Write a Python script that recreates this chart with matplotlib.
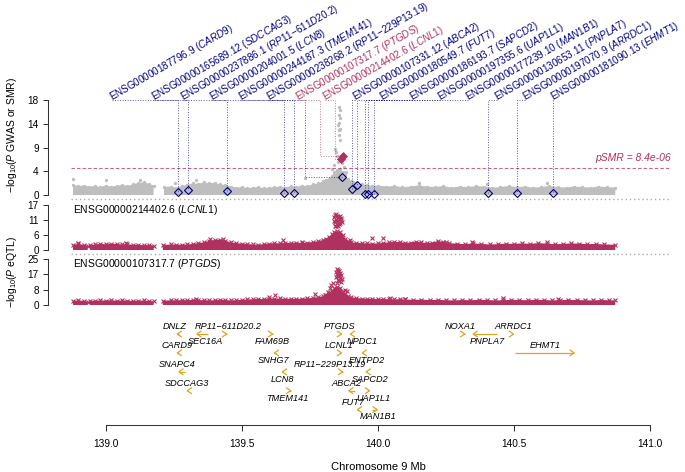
import numpy as np
import matplotlib
matplotlib.use("Agg")
import matplotlib.pyplot as plt
from matplotlib.lines import Line2D

plt.rcParams['font.family'] = ['Liberation Sans', 'DejaVu Sans']
plt.rcParams['mathtext.fontset'] = 'custom'
plt.rcParams['mathtext.rm'] = 'Liberation Sans'
plt.rcParams['mathtext.it'] = 'Liberation Sans:italic'
plt.rcParams['mathtext.bf'] = 'Liberation Sans:bold'

# ---------------- data ----------------
# GWAS: upper envelope of the dense band of SNPs (Mb, -log10 P); nan = gap
gwas_pos = [138.880, 138.900, 138.920, 138.940, 138.960, 138.980, 139.000, 139.020, 139.040, 139.060,
            139.080, 139.100, 139.120, 139.140, 139.160, 139.176, 139.195, 139.214, 139.240, 139.260,
            139.280, 139.300, 139.320, 139.340, 139.360, 139.380, 139.400, 139.420, 139.440, 139.460,
            139.480, 139.500, 139.520, 139.540, 139.560, 139.580, 139.600, 139.620, 139.640, 139.660,
            139.680, 139.700, 139.720, 139.740, 139.760, 139.780, 139.800, 139.810, 139.820, 139.830,
            139.840, 139.850, 139.860, 139.870, 139.880, 139.890, 139.900, 139.910, 139.920, 139.940,
            139.960, 139.980, 140.000, 140.030, 140.060, 140.090, 140.120, 140.150, 140.180, 140.210,
            140.240, 140.270, 140.300, 140.330, 140.360, 140.390, 140.420, 140.450, 140.480, 140.510,
            140.540, 140.570, 140.600, 140.630, 140.660, 140.690, 140.720, 140.750, 140.780, 140.810,
            140.840, 140.872]
gwas_top = [1.9, 1.7, 1.8, 1.6, 1.7, 1.5, 1.8, 1.6, 1.7, 1.9,
            1.7, 2.0, 2.3, 2.4, 2.1, 1.8, np.nan, 1.5, 1.6, 1.4,
            1.7, 1.9, 2.2, 2.1, 2.4, 2.2, 2.3, 2.0, 1.9, 1.6,
            1.4, 1.5, 1.3, 1.4, 1.5, 1.3, 1.4, 1.5, 1.6, 1.4,
            1.7, 1.5, 1.8, 1.7, 2.0, 2.2, 2.6, 2.8, 3.1, 3.6,
            4.3, 4.8, 5.0, 4.4, 3.7, 3.0, 2.6, 2.4, 2.2, 2.0,
            1.9, 1.7, 1.8, 1.6, 1.7, 1.5, 1.6, 1.8, 1.6, 1.5,
            1.7, 1.4, 1.6, 1.5, 1.7, 1.6, 1.4, 1.5, 1.7, 1.5,
            1.6, 1.4, 1.5, 1.7, 1.5, 1.4, 1.6, 1.5, 1.4, 1.6,
            1.5, 1.4]
# GWAS SNPs standing out above the band
gwas_pt_pos = [139.857, 139.861, 139.857, 139.861, 139.857, 139.854, 139.861, 139.857, 139.857, 139.861,
               139.843, 139.846, 139.850, 139.861, 139.854, 139.868, 139.839, 139.875, 139.832, 139.884,
               139.732, 138.880, 139.000, 139.125, 139.330, 139.255, 140.150, 140.400, 140.620]
gwas_pt_val = [16.7, 16.1, 15.2, 14.5, 13.6, 13.3, 12.6, 12.3, 11.4, 10.4,
               8.8, 8.2, 7.3, 6.6, 6.3, 6.0, 5.6, 5.3, 4.9, 4.4,
               3.2, 3.0, 2.8, 2.8, 2.9, 2.2, 2.3, 2.1, 2.2]

# SMR probes
smr_ids = ["ENSG00000187796.9", "ENSG00000165689.12", "ENSG00000237886.1", "ENSG00000204001.5",
           "ENSG00000244187.3", "ENSG00000238268.2", "ENSG00000107317.7", "ENSG00000214402.6",
           "ENSG00000107331.12", "ENSG00000180549.7", "ENSG00000186193.7", "ENSG00000197355.6",
           "ENSG00000177239.10", "ENSG00000130653.11", "ENSG00000197070.9", "ENSG00000181090.13"]
smr_genes = ["CARD9", "SDCCAG3", "RP11-611D20.2", "LCN8", "TMEM141", "RP11-229P13.19", "PTGDS", "LCNL1",
             "ABCA2", "FUT7", "SAPCD2", "UAP1L1", "MAN1B1", "PNPLA7", "ARRDC1", "EHMT1"]
smr_pos = [139.2656, 139.3024, 139.4456, 139.6550, 139.6918, 139.8681, 139.8718, 139.8644,
           139.9049, 139.9232, 139.9526, 139.9636, 139.9857, 140.4045, 140.5110, 140.6433]
smr_val = [0.57, 1.0, 0.7, 0.3, 0.3, 3.5, 7.3, 6.8,
           1.07, 1.9, 0.2, 0.2, 0.2, 0.45, 0.45, 0.45]
smr_sig = ["PTGDS", "LCNL1"]
psmr_threshold = 8.4e-06

# eQTL: LCNL1
eqtl1_id, eqtl1_gene = "ENSG00000214402.6", "LCNL1"
eqtl1_pos = [138.880, 138.900, 138.920, 138.934, 138.938, 138.942, 138.960, 138.980, 139.000, 139.020,
             139.040, 139.060, 139.080, 139.100, 139.120, 139.140, 139.160, 139.176, 139.193, 139.210,
             139.240, 139.260, 139.280, 139.300, 139.320, 139.340, 139.360, 139.380, 139.400, 139.420,
             139.440, 139.460, 139.480, 139.500, 139.520, 139.540, 139.560, 139.580, 139.600, 139.620,
             139.640, 139.660, 139.680, 139.700, 139.720, 139.740, 139.760, 139.780, 139.800, 139.810,
             139.820, 139.830, 139.840, 139.850, 139.860, 139.870, 139.880, 139.890, 139.900, 139.920,
             139.940, 139.960, 139.980, 140.000, 140.020, 140.040, 140.060, 140.080, 140.100, 140.120,
             140.140, 140.160, 140.180, 140.200, 140.220, 140.240, 140.260, 140.290, 140.320, 140.350,
             140.380, 140.410, 140.440, 140.470, 140.500, 140.530, 140.560, 140.590, 140.620, 140.650,
             140.680, 140.710, 140.740, 140.770, 140.800, 140.830, 140.872]
eqtl1_top = [1.9, 2.3, 1.9, 1.7, np.nan, 1.8, 2.1, 2.3, 2.2, 2.4,
             2.3, 2.1, 2.2, 1.9, 2.0, 1.8, 1.9, 1.7, np.nan, 1.9,
             2.1, 2.0, 2.0, 2.1, 2.3, 2.6, 2.9, 3.4, 3.8, 3.9,
             3.5, 2.9, 2.6, 2.4, 2.2, 2.1, 2.0, 2.2, 2.4, 2.6,
             2.5, 2.7, 2.6, 2.8, 2.6, 2.8, 3.0, 3.3, 3.8, 4.3,
             5.0, 5.9, 6.8, 7.0, 6.9, 5.8, 4.2, 3.3, 2.9, 2.7,
             2.6, 2.5, 2.4, 2.5, 2.7, 2.9, 3.1, 3.0, 2.7, 2.8,
             3.2, 2.9, 2.6, 2.8, 3.4, 3.1, 2.6, 2.4, 2.2, 2.5,
             2.3, 2.1, 2.2, 2.4, 2.3, 2.5, 2.3, 2.6, 2.4, 2.2,
             2.3, 2.5, 2.4, 2.2, 2.3, 2.1, 2.0]
eqtl1_pt_pos = [139.839, 139.842, 139.846, 139.850, 139.853, 139.857, 139.861, 139.864, 139.846, 139.842,
                139.850, 139.853, 139.857, 139.861, 139.864, 139.839, 139.868, 139.846, 139.853, 139.842,
                138.900, 139.075, 139.385, 139.430, 139.650, 139.720, 139.897, 139.978, 140.020, 140.250,
                140.345, 140.620]
eqtl1_pt_val = [12.5, 13.2, 13.6, 13.0, 12.4, 11.8, 12.8, 11.2, 11.5, 10.5,
                10.0, 10.8, 9.7, 10.2, 12.0, 11.0, 10.6, 9.2, 9.0, 8.9,
                2.7, 2.6, 4.0, 4.1, 3.6, 3.2, 3.8, 4.4, 4.7, 3.0,
                2.9, 2.9]

# eQTL: PTGDS
eqtl2_id, eqtl2_gene = "ENSG00000107317.7", "PTGDS"
eqtl2_pos = [138.880, 138.900, 138.920, 138.934, 138.938, 138.942, 138.960, 138.980, 139.000, 139.020,
             139.040, 139.060, 139.080, 139.100, 139.120, 139.140, 139.160, 139.176, 139.193, 139.210,
             139.240, 139.260, 139.280, 139.300, 139.320, 139.340, 139.360, 139.380, 139.400, 139.420,
             139.440, 139.460, 139.480, 139.500, 139.520, 139.540, 139.560, 139.580, 139.600, 139.620,
             139.640, 139.660, 139.680, 139.700, 139.720, 139.740, 139.760, 139.780, 139.800, 139.810,
             139.820, 139.830, 139.840, 139.850, 139.860, 139.870, 139.880, 139.890, 139.900, 139.920,
             139.940, 139.960, 139.980, 140.000, 140.020, 140.040, 140.060, 140.080, 140.100, 140.130,
             140.160, 140.190, 140.220, 140.250, 140.280, 140.310, 140.340, 140.370, 140.400, 140.430,
             140.460, 140.490, 140.520, 140.550, 140.580, 140.610, 140.640, 140.670, 140.700, 140.730,
             140.760, 140.790, 140.820, 140.850, 140.872]
eqtl2_top = [2.2, 2.6, 2.1, 1.9, np.nan, 2.0, 2.3, 2.5, 2.4, 2.6,
             2.3, 2.5, 2.4, 2.2, 2.3, 2.5, 2.2, 2.0, np.nan, 2.3,
             2.6, 2.5, 2.7, 2.6, 2.8, 2.6, 2.7, 2.5, 2.6, 2.8,
             2.7, 2.5, 2.6, 2.8, 3.0, 3.1, 3.3, 3.2, 3.5, 3.4,
             3.6, 3.3, 3.4, 3.2, 3.5, 3.6, 3.9, 4.2, 4.8, 5.5,
             6.4, 7.6, 9.0, 10.0, 9.2, 7.4, 5.8, 4.8, 4.2, 3.8,
             3.5, 3.3, 3.4, 3.2, 3.3, 3.1, 3.0, 3.2, 3.0, 2.8,
             2.9, 2.7, 2.8, 2.6, 2.5, 2.7, 2.6, 2.8, 2.7, 2.5,
             2.6, 2.8, 2.7, 2.6, 2.8, 2.7, 2.5, 2.6, 2.8, 2.7,
             2.6, 2.5, 2.7, 2.6, 2.5]
eqtl2_pt_pos = [139.850, 139.853, 139.857, 139.846, 139.861, 139.850, 139.864, 139.853, 139.857, 139.846,
                139.861, 139.868, 139.853, 139.857, 139.864, 139.850,
                139.769, 139.806, 139.815, 139.824, 139.829, 139.835, 139.879, 139.886, 139.622, 139.330,
                139.600, 140.045, 140.100, 140.460, 140.660]
eqtl2_pt_val = [19.5, 19.0, 18.4, 18.0, 17.6, 17.0, 16.4, 16.0, 15.5, 15.0,
                14.7, 14.0, 13.5, 13.0, 12.6, 12.2,
                6.2, 5.4, 7.0, 9.2, 10.9, 11.8, 8.2, 7.4, 5.4, 3.3,
                4.1, 3.6, 3.5, 4.0, 3.3]

# Genes in the region
gene_names = ["DNLZ", "SEC16A", "RP11\u2212611D20.2", "CARD9", "SNAPC4", "SDCCAG3", "FAM69B", "SNHG7",
              "LCN8", "TMEM141", "PTGDS", "NPDC1", "LCNL1", "ENTPD2", "RP11\u2212229P13.19", "SAPCD2",
              "ABCA2", "UAP1L1", "FUT7", "MAN1B1", "NOXA1", "PNPLA7", "ARRDC1", "EHMT1"]
gene_start = [139.263, 139.335, 139.440, 139.263, 139.269, 139.300, 139.608, 139.620,
              139.649, 139.675, 139.862, 139.899, 139.862, 139.943, 139.866, 139.957,
              139.893, 139.965, 139.925, 139.978, 140.315, 140.350, 140.494, 140.505]
gene_end = [139.268, 139.376, 139.444, 139.268, 139.291, 139.304, 139.613, 139.624,
            139.653, 139.679, 139.866, 139.903, 139.866, 139.947, 139.870, 139.961,
            139.916, 139.969, 139.929, 139.997, 140.319, 140.438, 140.498, 140.721]
gene_strand = [-1, -1, 1, -1, -1, -1, 1, -1, -1, 1, 1, -1, 1, -1, 1, -1, -1, 1, -1, 1, 1, -1, 1, 1]
gene_row = [0, 0, 0, 1, 2, 3, 0, 1, 2, 3, 0, 0, 1, 1, 2, 2, 3, 3, 4, 4, 0, 0, 0, 1]

x_ticks = [139.0, 139.5, 140.0, 140.5, 141.0]
x_ticklabels = ["139.0", "139.5", "140.0", "140.5", "141.0"]
gwas_ticks = [0, 4.5, 9, 13.5, 18]
gwas_ticklabels = ["0", "4", "9", "14", "18"]
eqtl1_ticks = [0, 17 / 3, 34 / 3, 17]
eqtl1_ticklabels = ["0", "6", "11", "17"]
eqtl2_ticks = [0, 25 / 3, 50 / 3, 25]
eqtl2_ticklabels = ["0", "8", "17", "25"]

# ---------------- layout (pixels / Mb) ----------------
# start of each rotated probe label, and where its leader turns down
label_x = [139.023, 139.177, 139.284, 139.3905, 139.497, 139.600, 139.7065, 139.806,
           139.916, 140.015, 140.125, 140.228, 140.331, 140.438, 140.540, 140.643]
route_override = {"RP11-229P13.19": 139.732, "PTGDS": 139.787, "LCNL1": 139.842}
gene_text_x = [139.255, 139.365, 139.449, 139.262, 139.262, 139.298, 139.611, 139.618,
               139.648, 139.666, 139.860, 139.942, 139.857, 139.960, 139.824, 139.971,
               139.883, 139.982, 139.908, 140.000, 140.302, 140.401, 140.496, 140.614]
gene_text_side = [-1, 1, -1, -1, -1, -1, 1, 1, 1, 1, -1, 1, -1, 1, -1, 1, -1, 1, -1, 1, -1, 1, -1, -1]

GREY = "#BEBEBE"
MAROON = "#B03060"
NAVY = "#000080"
GOLD = "#DAA520"

W, H = 685, 472
LEFT, RIGHT = 71, 671
PX_PER_MB = 272.2
XL = (139 + (LEFT - 105.7) / PX_PER_MB, 139 + (RIGHT - 105.7) / PX_PER_MB)

fig = plt.figure(figsize=(W / 100, H / 100), dpi=100)


def add_ax(top, bottom):
    return fig.add_axes([LEFT / W, 1 - bottom / H, (RIGHT - LEFT) / W, (bottom - top) / H])


def style_y(ax, ticks, labels, ymax):
    ax.set_xlim(*XL)
    ax.set_ylim(0, ymax)
    for s in ['top', 'right', 'bottom']:
        ax.spines[s].set_visible(False)
    ax.spines['left'].set_position(('outward', (LEFT - 48) * 0.72))
    ax.spines['left'].set_bounds(0, ymax)
    ax.spines['left'].set_linewidth(0.75)
    ax.spines['left'].set_color('#333333')
    ax.set_yticks(ticks)
    ax.set_yticklabels(labels)
    ax.tick_params(axis='y', length=3.6, width=0.75, labelsize=7.2, pad=3, color='#333333')
    ax.set_xticks([])
    ax.patch.set_visible(False)


ax0 = add_ax(100, 195)
ax1 = add_ax(205, 250)
ax2 = add_ax(259, 305)
axg = add_ax(315, 425)

style_y(ax0, gwas_ticks, gwas_ticklabels, 18)
style_y(ax1, eqtl1_ticks, eqtl1_ticklabels, 17)
style_y(ax2, eqtl2_ticks, eqtl2_ticklabels, 25)

# separators
for ypx in [199.5, 254.5]:
    fig.add_artist(Line2D([LEFT / W, RIGHT / W], [1 - ypx / H] * 2, transform=fig.transFigure,
                          color="#AAAAAA", lw=1.0, linestyle=(0, (1, 2))))

# ---- GWAS / SMR panel ----
ax0.fill_between(gwas_pos, 0, gwas_top, color=GREY, lw=0, zorder=1)
ax0.plot(gwas_pos, gwas_top, 'o', ms=2.4, color=GREY, mec='none', zorder=1, clip_on=False)
ax0.plot(gwas_pt_pos, gwas_pt_val, 'o', ms=2.4, color=GREY, mec='none', zorder=1, clip_on=False)

thr = -np.log10(psmr_threshold)
ax0.axhline(thr, color=MAROON, lw=0.8, ls=(0, (3, 2)), alpha=0.75, zorder=2)
ax0.text(XL[1], thr + 2.0, f"pSMR = {psmr_threshold:.1e}", color=MAROON, fontsize=7.5,
         style='italic', ha='right', va='center')

ytop = 18.0
for i, (gid, g) in enumerate(zip(smr_ids, smr_genes)):
    col = MAROON if g in smr_sig else NAVY
    xr = route_override.get(g, smr_pos[i])
    xs = [label_x[i], xr, xr, smr_pos[i]]
    ys = [ytop, ytop, smr_val[i], smr_val[i]]
    ax0.plot(xs, ys, color=col, lw=0.7, ls=(0, (1, 1.6)), alpha=0.65, clip_on=False, zorder=3)
    gtex = g.replace("-", "{-}")
    ax0.text(label_x[i], ytop - 0.05, f"{gid} ($\\mathit{{{gtex}}}$)", rotation=30,
             rotation_mode='anchor', ha='left', va='baseline', color=col, fontsize=7.1, clip_on=False)

nonsig = [i for i, g in enumerate(smr_genes) if g not in smr_sig]
sig = [i for i, g in enumerate(smr_genes) if g in smr_sig]
ax0.plot([smr_pos[i] for i in nonsig], [smr_val[i] for i in nonsig], 'D', ms=4.4, mfc='none',
         mec=NAVY, mew=0.8, zorder=4, clip_on=False)
ax0.plot([smr_pos[i] for i in sig], [smr_val[i] for i in sig], 'D', ms=4.4, mfc=MAROON,
         mec=MAROON, mew=0.5, zorder=4, clip_on=False)

# ---- eQTL panels ----
for ax, pos, top, ppos, pval, gid, g, ymax in [
        (ax1, eqtl1_pos, eqtl1_top, eqtl1_pt_pos, eqtl1_pt_val, eqtl1_id, eqtl1_gene, 17),
        (ax2, eqtl2_pos, eqtl2_top, eqtl2_pt_pos, eqtl2_pt_val, eqtl2_id, eqtl2_gene, 25)]:
    ax.fill_between(pos, 0, top, color=MAROON, lw=0, zorder=1)
    ax.plot(pos, top, 'x', ms=3.2, mew=0.8, color=MAROON, zorder=2, clip_on=False)
    ax.plot(ppos, pval, 'x', ms=3.2, mew=0.8, color=MAROON, zorder=2, clip_on=False)
    ax.text(138.880, ymax * 0.885, f"{gid} ($\\mathit{{{g}}}$)", fontsize=7.5, ha='left',
            va='center', color='black')

# ---- gene panel ----
axg.set_xlim(*XL)
axg.set_ylim(425, 315)
for s in ['top', 'right', 'left']:
    axg.spines[s].set_visible(False)
axg.spines['bottom'].set_bounds(139, 141)
axg.spines['bottom'].set_linewidth(0.75)
axg.spines['bottom'].set_color('#333333')
axg.set_xticks(x_ticks)
axg.set_xticklabels(x_ticklabels)
axg.set_yticks([])
axg.tick_params(axis='x', length=4.3, width=0.75, labelsize=7.3, pad=6, color='#333333')
axg.patch.set_visible(False)

ROW_Y0, ROW_DY, TXT_DY = 334, 18.9, 7.3
head_dx = 4.0 / PX_PER_MB
head_dy = 2.8
for name, s, e, strand, row, tx, side in zip(gene_names, gene_start, gene_end, gene_strand,
                                             gene_row, gene_text_x, gene_text_side):
    y = ROW_Y0 + ROW_DY * row
    axg.plot([s, e], [y, y], color=GOLD, lw=0.9, solid_capstyle='butt')
    tip = e if strand > 0 else s
    back = tip - strand * head_dx
    axg.plot([back, tip, back], [y - head_dy, y, y + head_dy], color=GOLD, lw=0.9)
    axg.text(tx, y + side * TXT_DY, name, ha='center', va='center', style='italic', fontsize=6.6)

# axis titles
fig.text(378 / W, 1 - 467 / H, "Chromosome 9 Mb", ha='center', va='center', fontsize=8)
fig.text(12 / W, 1 - 135 / H, "$-$log$_{10}$($\\mathit{P}$ GWAS or SMR)", rotation=90,
         ha='center', va='center', fontsize=7.5)
fig.text(12 / W, 1 - 272 / H, "$-$log$_{10}$($\\mathit{P}$ eQTL)", rotation=90,
         ha='center', va='center', fontsize=7.5)

fig.savefig("out.png", dpi=100)
